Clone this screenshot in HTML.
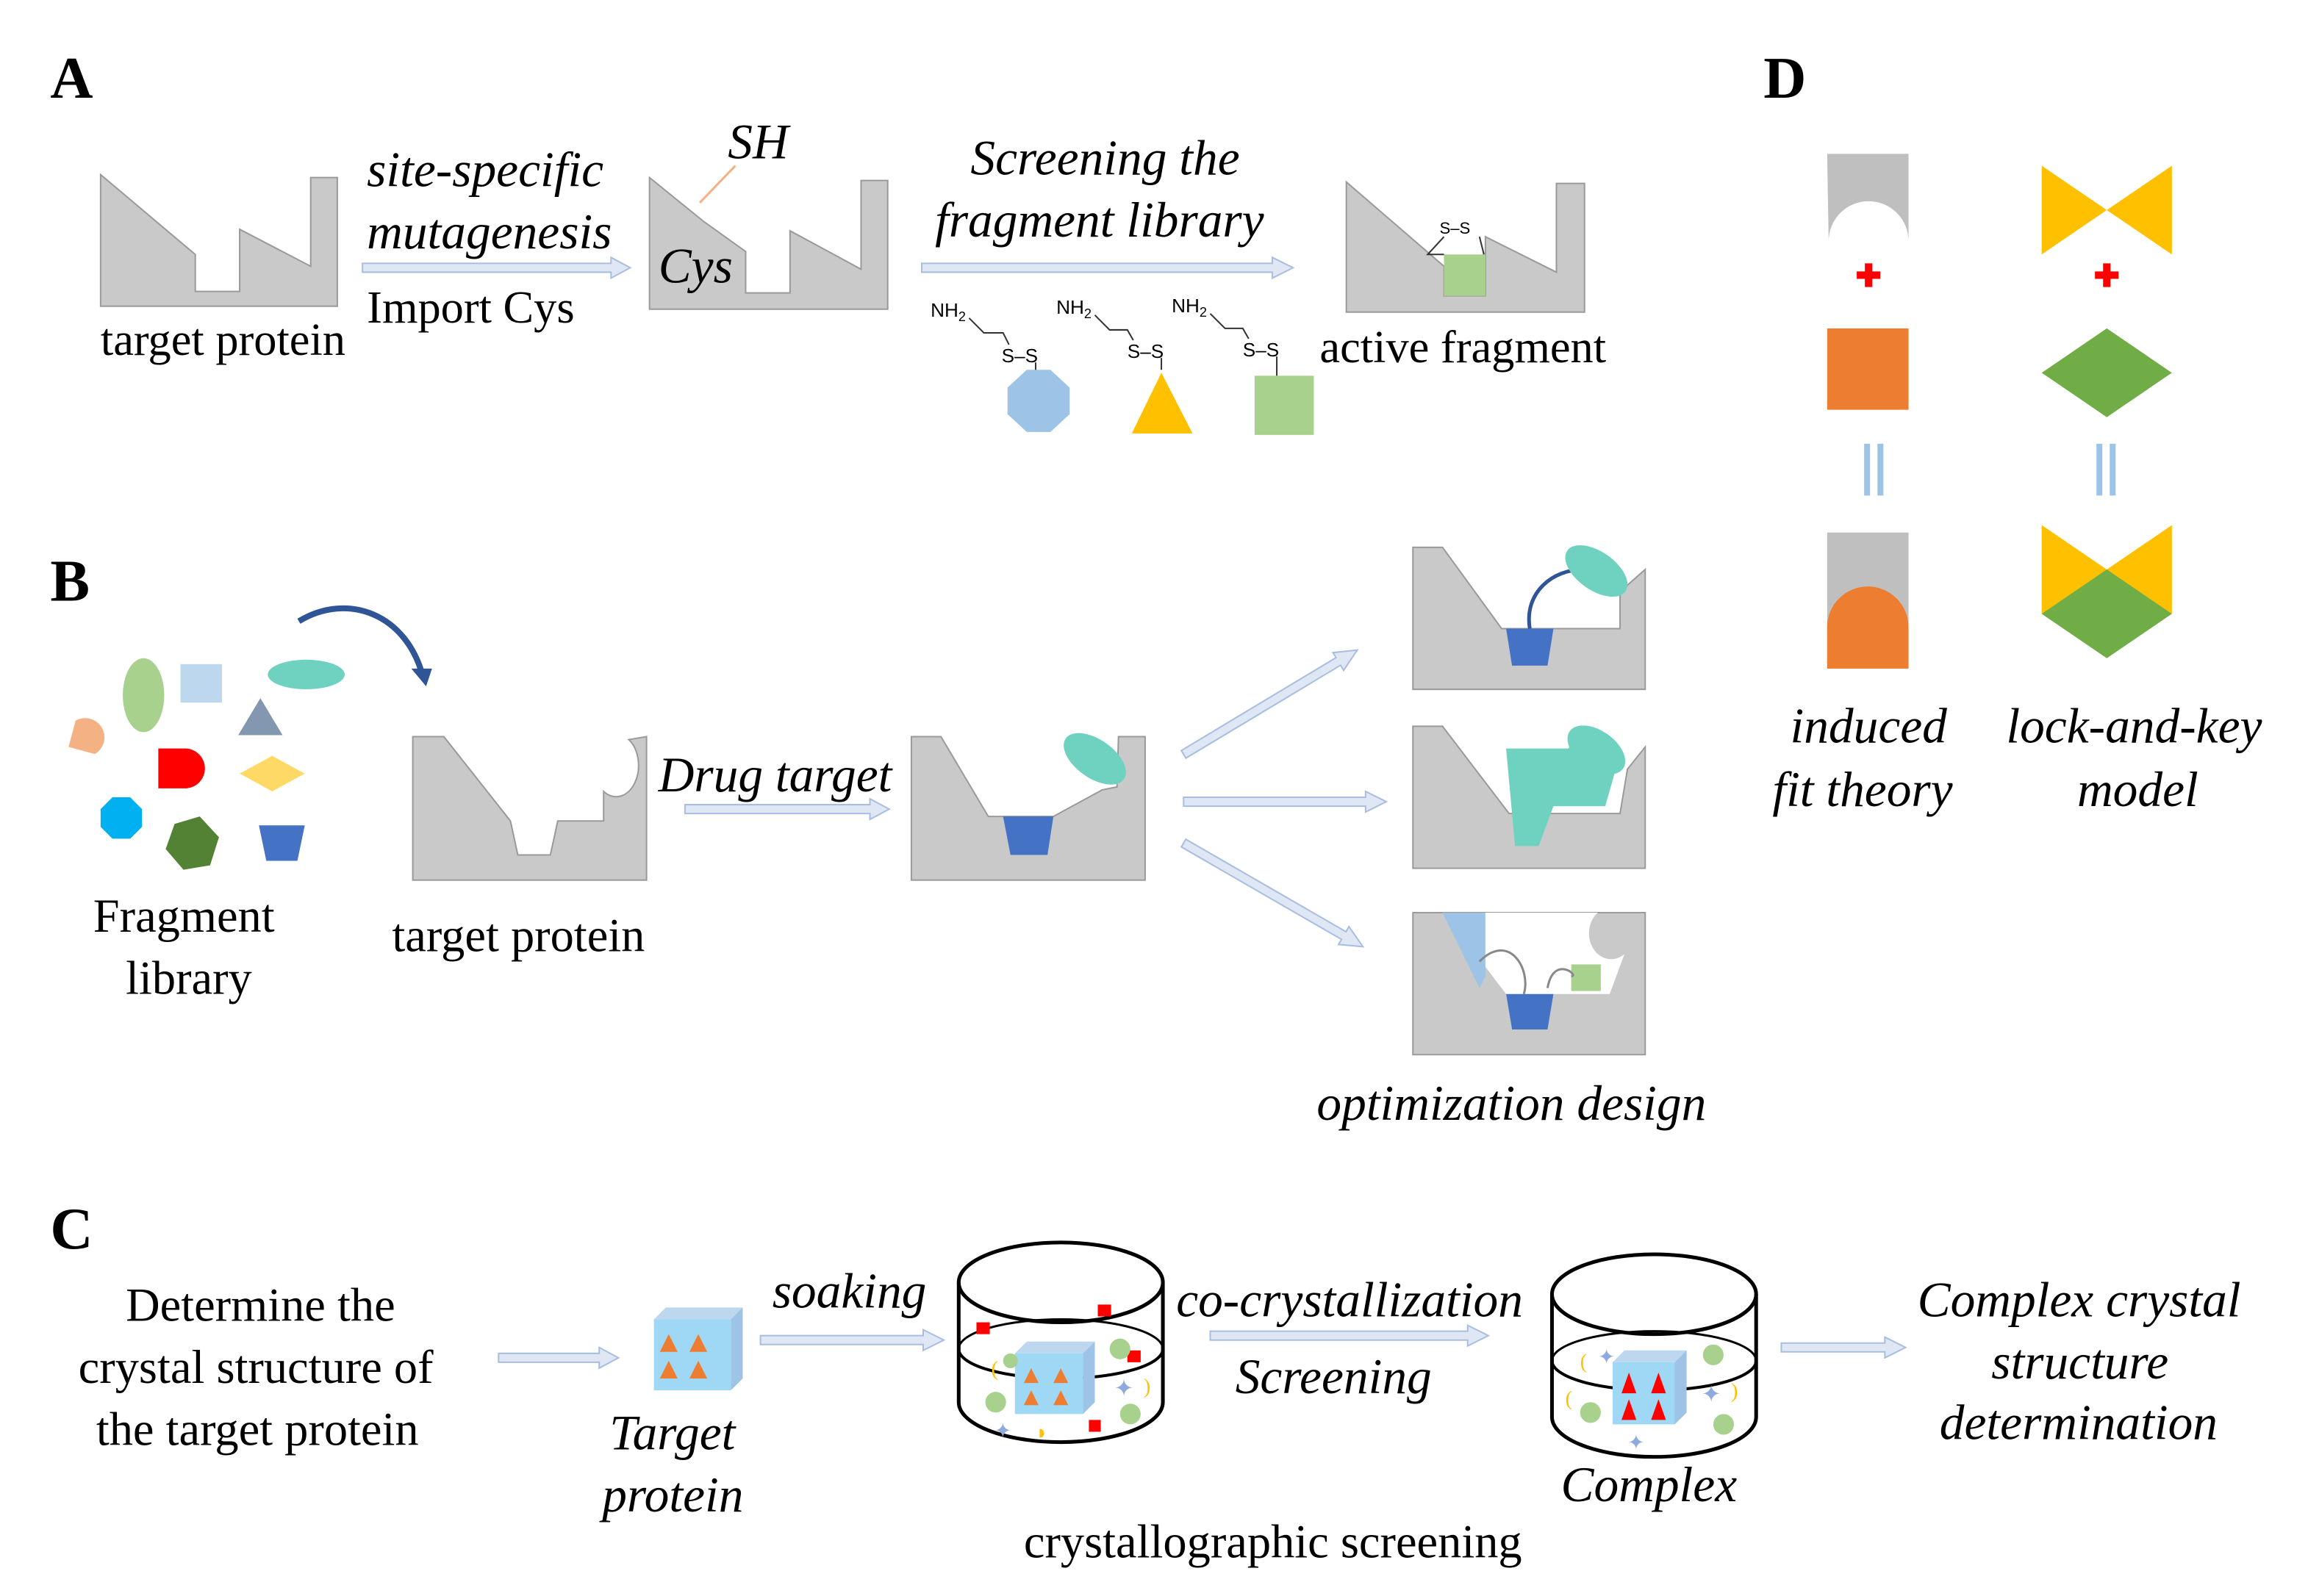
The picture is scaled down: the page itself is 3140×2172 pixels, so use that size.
<!DOCTYPE html>
<html><head><meta charset="utf-8"><style>
html,body{margin:0;padding:0;background:#fff}
svg{display:block}
text{font-family:"Liberation Serif",serif;fill:#000}
.i{font-style:italic}
.p{fill:#c9c9c9;stroke:#9a9a9a;stroke-width:1}
.ar{fill:#dfe7f4;stroke:#a9bde0;stroke-width:1}
</style></head><body>
<svg width="3140" height="2172" viewBox="0 0 1560 1079" xmlns="http://www.w3.org/2000/svg">
<!-- A -->
<text x="34" y="66" font-size="40" font-weight="bold">A</text>
<path class="p" d="M68,118 L132,172 L132,197 L162,197 L162,155 L210,180 L210,120 L228,120 L228,207 L68,207 Z"/>
<text x="68" y="240" font-size="31">target protein</text>
<path class="ar" d="M245,178 L413,178 L413,174 L426,181 L413,188 L413,184 L245,184 Z"/>
<text x="248" y="126" font-size="33.5" class="i">site-specific</text>
<text x="248" y="168" font-size="33.5" class="i">mutagenesis</text>
<text x="248" y="218" font-size="31">Import Cys</text>
<path class="p" d="M439,120 L476,150 L504,170 L504,198 L534,198 L534,156 L582,182 L582,122 L600,122 L600,209 L439,209 Z"/>
<line x1="473" y1="137" x2="497" y2="112" stroke="#f4b183" stroke-width="1.5"/>
<text x="492" y="107" font-size="33.5" class="i">SH</text>
<text x="445" y="191" font-size="33.5" class="i">Cys</text>
<path class="ar" d="M623,178 L860,178 L860,174 L874,181 L860,188 L860,184 L623,184 Z"/>
<text x="656" y="118" font-size="33.5" class="i">Screening the</text>
<text x="632" y="160" font-size="33.5" class="i">fragment library</text>
<g font-size="13">
<text x="629" y="214" style="font-family:'Liberation Sans',sans-serif">NH<tspan font-size="9" dy="3">2</tspan></text>
<text x="714" y="212" style="font-family:'Liberation Sans',sans-serif">NH<tspan font-size="9" dy="3">2</tspan></text>
<text x="792" y="211" style="font-family:'Liberation Sans',sans-serif">NH<tspan font-size="9" dy="3">2</tspan></text>
<text x="677" y="245" style="font-family:'Liberation Sans',sans-serif">S–S</text>
<text x="762" y="242" style="font-family:'Liberation Sans',sans-serif">S–S</text>
<text x="840" y="241" style="font-family:'Liberation Sans',sans-serif">S–S</text>
</g>
<path d="M655,215 L665,225 L678,225 L682,233 M740,213 L750,223 L762,223 L766,230 M818,212 L828,222 L840,222 L844,229 M700,245 L700,252 M785,242 L785,250 M863,241 L863,254" stroke="#333" fill="none" stroke-width="1"/>
<polygon points="694,250 710,250 723,262 723,280 710,292 694,292 681,280 681,262" fill="#9dc3e6"/>
<polygon points="785,252 806,293 765,293" fill="#ffc000"/>
<rect x="848" y="254" width="40" height="40" fill="#a9d18e"/>
<path class="p" d="M910,123 L976,180 L976,200 L1004,200 L1004,160 L1052,184 L1052,124 L1071,124 L1071,211 L910,211 Z"/>
<rect x="976" y="172" width="28" height="28" fill="#a9d18e"/>
<text x="973" y="158" font-size="11" style="font-family:'Liberation Sans',sans-serif">S–S</text>
<path d="M976,160 L965,172 L976,172 M1000,160 L1003,172" stroke="#333" fill="none"/>
<text x="892" y="245" font-size="31">active fragment</text>

<!-- D -->
<text x="1192" y="66" font-size="40" font-weight="bold">D</text>
<path d="M1235,104 L1290,104 L1290,163 A27,27 0 0 0 1236,163 Z" fill="#bfbfbf"/>
<path d="M1263,178 v16 M1255,186 h16" stroke="#f00" stroke-width="5"/>
<rect x="1235" y="222" width="55" height="55" fill="#ed7d31"/>
<path d="M1262,300 v35 M1271,300 v35" stroke="#9dc3e6" stroke-width="4"/>
<rect x="1235" y="360" width="55" height="92" fill="#bfbfbf"/>
<path d="M1235,452 L1235,424 A27.5,27.5 0 0 1 1290,424 L1290,452 Z" fill="#ed7d31"/>
<polygon points="1380,112 1424,142 1380,172" fill="#ffc000"/>
<polygon points="1468,112 1424,142 1468,172" fill="#ffc000"/>
<path d="M1424,178 v16 M1416,186 h16" stroke="#f00" stroke-width="5"/>
<polygon points="1380,252 1424,222 1468,252 1424,282" fill="#70ad47"/>
<path d="M1419,300 v35 M1428,300 v35" stroke="#9dc3e6" stroke-width="4"/>
<polygon points="1380,355 1424,385 1468,355 1468,415 1380,415" fill="#ffc000"/>
<polygon points="1380,415 1424,385 1468,415 1424,445" fill="#70ad47"/>
<text x="1210" y="502" font-size="33.5" class="i">induced</text>
<text x="1198" y="545" font-size="33.5" class="i">fit theory</text>
<text x="1356" y="502" font-size="33.5" class="i">lock-and-key</text>
<text x="1404" y="545" font-size="33.5" class="i">model</text>

<!-- B -->
<text x="34" y="406" font-size="40" font-weight="bold">B</text>
<path d="M58,487 A13,13 0 0 1 58,513 L45,500 Z" fill="#f4b183" transform="rotate(-30 55 500)"/>
<ellipse cx="97" cy="470" rx="14" ry="25" fill="#a9d18e"/>
<rect x="122" y="449" width="28" height="26" fill="#bdd7ee"/>
<ellipse cx="207" cy="456" rx="26" ry="10" fill="#6fd2c0"/>
<polygon points="161,497 176,472 191,497" fill="#8497b0"/>
<path d="M107,506 L125,506 A13,13 0 0 1 125,533 L107,533 Z" fill="#f00"/>
<polygon points="162,523 184,511 206,523 184,535" fill="#ffd966"/>
<polygon points="76,539 88,539 96,547 96,559 88,567 76,567 68,559 68,547" fill="#00b0f0"/>
<polygon points="118,557 135,552 148,566 142,585 124,588 112,574" fill="#548235"/>
<polygon points="175,558 206,558 201,582 180,582" fill="#4472c4"/>
<path d="M202,420 C235,400 275,415 286,458" stroke="#2f5597" stroke-width="4" fill="none"/>
<polygon points="278,452 292,452 288,464" fill="#2f5597"/>
<text x="63" y="630" font-size="32">Fragment</text>
<text x="85" y="672" font-size="32">library</text>
<path class="p" d="M279,498 L300,498 L345,555 L350,578 L372,578 L377,555 L408,555 L408,535 A10,14 0 0 0 425,500 L437,498 L437,595 L279,595 Z"/>
<text x="265" y="643" font-size="32">target protein</text>
<path class="ar" d="M463,544 L588,544 L588,540 L601,547 L588,554 L588,550 L463,550 Z"/>
<text x="445" y="535" font-size="33.5" class="i">Drug target</text>
<path class="p" d="M616,498 L636,498 L668,552 L712,552 L745,534 L755,532 L756,498 L774,498 L774,595 L616,595 Z"/>
<polygon points="678,552 712,552 708,578 683,578" fill="#4472c4"/>
<ellipse cx="740" cy="513" rx="24" ry="13" fill="#6fd2c0" transform="rotate(35 740 513)"/>
<path class="ar" transform="translate(800,510) rotate(-31)" d="M0,-3 L122,-3 L122,-7 L137,0 L122,7 L122,3 L0,3 Z"/>
<path class="ar" d="M800,539 L923,539 L923,535 L937,542 L923,549 L923,545 L800,545 Z"/>
<path class="ar" transform="translate(800,570) rotate(30)" d="M0,-3 L125,-3 L125,-7 L140,0 L125,7 L125,3 L0,3 Z"/>
<!-- opt 1 -->
<path class="p" d="M955,370 L975,370 L1015,425 L1095,425 L1095,400 L1112,385 L1112,466 L955,466 Z"/>
<polygon points="1018,425 1050,425 1046,450 1022,450" fill="#4472c4"/>
<path d="M1034,425 C1030,400 1050,385 1070,385" stroke="#2f5597" stroke-width="2.5" fill="none"/>
<ellipse cx="1079" cy="386" rx="24" ry="13" fill="#6fd2c0" transform="rotate(35 1079 386)"/>
<!-- opt 2 -->
<path class="p" d="M955,491 L975,491 L1020,550 L1095,550 L1100,520 L1112,505 L1112,587 L955,587 Z"/>
<path d="M1018,506 L1060,506 L1070,495 L1095,510 L1085,545 L1050,545 L1040,572 L1024,572 Z" fill="#6fd2c0"/>
<ellipse cx="1079" cy="507" rx="22" ry="13" fill="#6fd2c0" transform="rotate(35 1079 507)"/>
<!-- opt 3 -->
<path class="p" d="M955,617 L1112,617 L1112,713 L955,713 Z"/>
<path d="M976,617 L1080,617 A12,14 0 0 0 1098,645 L1088,672 L1050,672 L1046,696 L1022,696 L1018,672 Z" fill="#fff"/>
<polygon points="975,617 1004,617 1004,660 1000,668" fill="#9dc3e6"/>
<rect x="1062" y="652" width="20" height="18" fill="#a9d18e"/>
<polygon points="1018,672 1050,672 1046,696 1022,696" fill="#4472c4"/>
<path d="M1000,650 C1020,630 1035,655 1030,672 M1046,668 C1050,645 1068,660 1062,660" stroke="#888" fill="none" stroke-width="1.5"/>
<text x="890" y="757" font-size="33.5" class="i">optimization design</text>

<!-- C -->
<text x="34" y="844" font-size="40" font-weight="bold">C</text>
<text x="85" y="893" font-size="32">Determine the</text>
<text x="53" y="935" font-size="32">crystal structure of</text>
<text x="65" y="977" font-size="32">the target protein</text>
<path class="ar" d="M337,915 L405,915 L405,911 L418,918 L405,925 L405,921 L337,921 Z"/>
<g>
<polygon points="442,892 450,884 502,884 494,892" fill="#bdd7ee"/>
<polygon points="494,892 502,884 502,932 494,940" fill="#9dc3e6"/>
<rect x="442" y="892" width="52" height="48" fill="#9fd8f5"/>
<g fill="#ed7d31"><polygon points="452,902 458,914 446,914"/><polygon points="472,902 478,914 466,914"/><polygon points="452,920 458,932 446,932"/><polygon points="472,920 478,932 466,932"/></g>
</g>
<text x="412" y="980" font-size="33.5" class="i">Target</text>
<text x="407" y="1022" font-size="33.5" class="i">protein</text>
<path class="ar" d="M514,903 L624,903 L624,899 L638,906 L624,913 L624,909 L514,909 Z"/>
<text x="522" y="884" font-size="33.5" class="i">soaking</text>
<g stroke="#000" stroke-width="2.5" fill="none">
<ellipse cx="717" cy="867" rx="69" ry="27"/>
<path d="M648,867 L648,948 A69,27 0 0 0 786,948 L786,867"/>
<path d="M648,912 A69,20 0 0 0 786,912" stroke-width="2"/>
<path d="M648,912 A69,20 0 0 1 786,912" stroke-width="1.5"/>
</g>
<g>
<polygon points="686,915 694,907 740,907 732,915" fill="#bdd7ee"/>
<polygon points="732,915 740,907 740,948 732,956" fill="#9dc3e6"/>
<rect x="686" y="915" width="46" height="41" fill="#9fd8f5"/>
<g fill="#ed7d31"><polygon points="697,925 702,935 692,935"/><polygon points="717,925 722,935 712,935"/><polygon points="697,940 702,950 692,950"/><polygon points="717,940 722,950 712,950"/></g>
<rect x="660" y="894" width="9" height="8" fill="#f00"/><rect x="742" y="882" width="9" height="8" fill="#f00"/><rect x="762" y="913" width="9" height="8" fill="#f00"/><rect x="736" y="960" width="8" height="8" fill="#f00"/>
<circle cx="757" cy="912" r="7" fill="#a9d18e"/><circle cx="673" cy="948" r="7" fill="#a9d18e"/><circle cx="764" cy="956" r="7" fill="#a9d18e"/><circle cx="683" cy="920" r="5" fill="#a9d18e"/>
<text x="670" y="930" font-size="14" style="fill:#ffc000">(</text><text x="700" y="973" font-size="14" style="fill:#ffc000">◗</text><text x="773" y="942" font-size="14" style="fill:#ffc000">)</text>
<text x="753" y="944" font-size="16" style="fill:#8faadc">✦</text><text x="672" y="972" font-size="14" style="fill:#8faadc">✦</text>
</g>
<path class="ar" d="M818,900 L992,900 L992,896 L1006,903 L992,910 L992,906 L818,906 Z"/>
<text x="795" y="890" font-size="33.5" class="i">co-crystallization</text>
<text x="835" y="942" font-size="33.5" class="i">Screening</text>
<g stroke="#000" stroke-width="2.5" fill="none">
<ellipse cx="1118" cy="875" rx="69" ry="27"/>
<path d="M1049,875 L1049,958 A69,27 0 0 0 1187,958 L1187,875"/>
<path d="M1049,920 A69,20 0 0 0 1187,920" stroke-width="2"/>
<path d="M1049,920 A69,20 0 0 1 1187,920" stroke-width="1.5"/>
</g>
<g>
<polygon points="1090,921 1098,913 1140,913 1132,921" fill="#bdd7ee"/>
<polygon points="1132,921 1140,913 1140,955 1132,963" fill="#9dc3e6"/>
<rect x="1090" y="921" width="42" height="42" fill="#9fd8f5"/>
<g fill="#f00"><polygon points="1101,928 1106,942 1096,942"/><polygon points="1121,928 1126,942 1116,942"/><polygon points="1101,946 1106,960 1096,960"/><polygon points="1121,946 1126,960 1116,960"/></g>
<circle cx="1158" cy="916" r="7" fill="#a9d18e"/><circle cx="1075" cy="955" r="7" fill="#a9d18e"/><circle cx="1165" cy="963" r="7" fill="#a9d18e"/>
<text x="1068" y="925" font-size="14" style="fill:#ffc000">(</text><text x="1170" y="945" font-size="14" style="fill:#ffc000">)</text><text x="1058" y="950" font-size="14" style="fill:#ffc000">(</text>
<text x="1150" y="948" font-size="16" style="fill:#8faadc">✦</text><text x="1080" y="922" font-size="14" style="fill:#8faadc">✦</text><text x="1100" y="980" font-size="14" style="fill:#8faadc">✦</text>
</g>
<text x="1055" y="1015" font-size="33.5" class="i">Complex</text>
<text x="692" y="1053" font-size="32">crystallographic screening</text>
<path class="ar" d="M1204,908 L1274,908 L1274,904 L1288,911 L1274,918 L1274,914 L1204,914 Z"/>
<text x="1296" y="890" font-size="33.5" class="i">Complex crystal</text>
<text x="1346" y="932" font-size="33.5" class="i">structure</text>
<text x="1311" y="973" font-size="33.5" class="i">determination</text>
</svg>
</body></html>
